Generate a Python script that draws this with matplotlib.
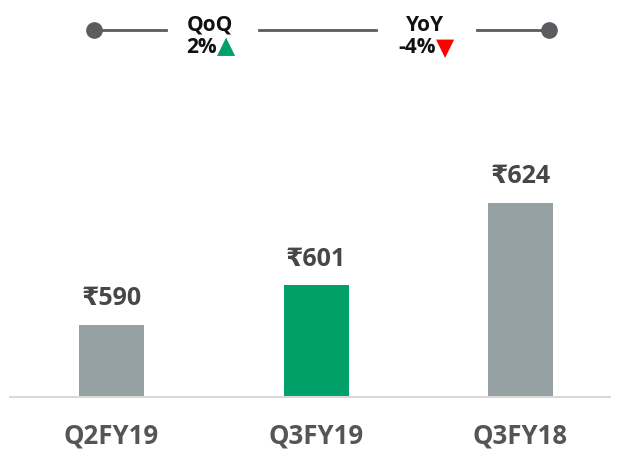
import matplotlib
matplotlib.use('Agg')
import matplotlib.pyplot as plt
from matplotlib.lines import Line2D

categories = ['Q2FY19', 'Q3FY19', 'Q3FY18']
values = [590, 601, 624]
bar_colors = ['#95a1a2', '#00a068', '#95a1a2']
value_labels = ['₹590', '₹601', '₹624']

qoq_label = 'QoQ'
qoq_value = '2%'
yoy_label = 'YoY'
yoy_value = '-4%'

W, H = 618, 449
FONT = ['Open Sans', 'DejaVu Sans']


def fx(px):
    return px / W


def fy(py):
    return (H - py) / H


fig = plt.figure(figsize=(W / 100, H / 100), dpi=100)

# bar axes: baseline at py=397, 3.6 px per unit, base value 570
ax = fig.add_axes([fx(10), fy(397), fx(600), (397 - 100) / H])
x = list(range(len(categories)))
ax.bar(x, values, width=65 / 204.5, color=bar_colors, zorder=2)
ax.set_xlim(-101.5 / 204.5, 2 + 89.5 / 204.5)
ax.set_ylim(570, 570 + 297 / 3.6)
for xi, v, lab in zip(x, values, value_labels):
    ax.annotate(lab, (xi, v), xytext=(0, 10), textcoords='offset points',
                ha='center', va='bottom', fontsize=18, fontweight='bold',
                color='#474747', family=FONT)
for s in ['top', 'right', 'left']:
    ax.spines[s].set_visible(False)
ax.spines['bottom'].set_color('#d9d9d9')
ax.spines['bottom'].set_linewidth(1.5)
ax.set_yticks([])
ax.set_xticks(x)
ax.set_xticklabels(categories, fontsize=18.5, fontweight='bold', color='#555555',
                   family=FONT)
ax.tick_params(axis='x', length=0, pad=18)

# top comparison strip
line_kw = dict(color='#5a5c60', linewidth=2, transform=fig.transFigure)
for x0, x1 in [(94, 166), (259, 376), (477, 549)]:
    fig.add_artist(Line2D([fx(x0), fx(x1)], [fy(30), fy(30)], **line_kw))
for cx in [94, 549]:
    fig.add_artist(Line2D([fx(cx)], [fy(30)], marker='o', markersize=11,
                          color='#5a5c60', transform=fig.transFigure))

txt_kw = dict(fontsize=15, fontweight='bold', color='#111111', family=FONT,
              va='baseline')
fig.text(fx(210), fy(31), qoq_label, ha='center', **txt_kw)
fig.text(fx(425), fy(31), yoy_label, ha='center', **txt_kw)
fig.text(fx(217), fy(53), qoq_value, ha='right', **txt_kw)
fig.text(fx(436), fy(53), yoy_value, ha='right', **txt_kw)
fig.text(fx(217), fy(53), '▲', ha='left', va='baseline', fontsize=17,
         color='#00a068', family=['DejaVu Sans'])
fig.text(fx(436), fy(55), '▼', ha='left', va='baseline', fontsize=17,
         color='#ff0000', family=['DejaVu Sans'])

fig.savefig('out.png', dpi=100)
